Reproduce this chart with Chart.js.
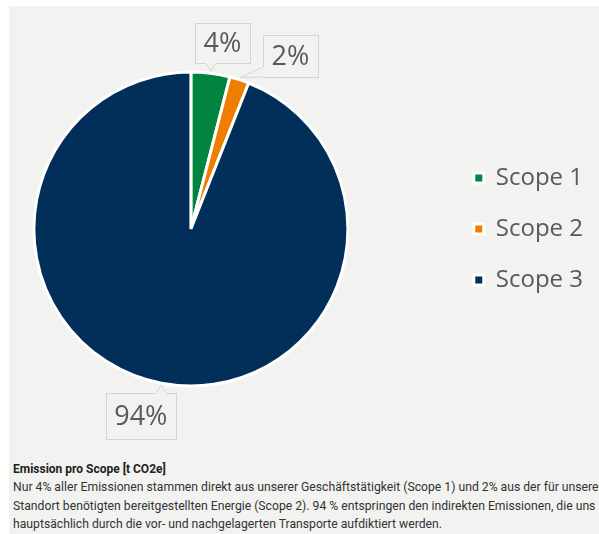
<!DOCTYPE html>
<html>
<head>
<meta charset="utf-8">
<script src="https://cdn.jsdelivr.net/npm/chart.js@4"></script>
<style>
  html, body { margin: 0; padding: 0; background: #fff; }
  body { width: 599px; height: 534px; overflow: hidden; position: relative; }
  .panel {
    position: absolute; left: 9px; top: 6px; width: 590px; height: 528px;
    background: #f2f2f0; overflow: hidden;
  }
  /* Zeichenfläche nach links verschoben, damit der Kreis links sitzt */
  .chart-box { position: absolute; left: -74px; top: 0; width: 665px; height: 444px; }
  .caption {
    position: absolute; left: 4px; top: 453.5px; width: 700px;
    font-family: Roboto, sans-serif; font-size: 12.2px; line-height: 18.5px; color: #333;
    white-space: nowrap;
  }
  .caption b { font-weight: 700; color: #222; font-size: 12px; }
</style>
</head>
<body>
<div class="panel">
  <div class="chart-box"><canvas id="scopeChart"></canvas></div>
  <div class="caption" id="caption"></div>
</div>
<script>
// Anteil der Emissionen je Scope (Prozent)
const scopeLabels = ['Scope 1', 'Scope 2', 'Scope 3'];
const scopeShares = [4, 2, 94];

const captionTitle = 'Emission pro Scope [t CO2e]';
const captionLines = [
    'Nur 4% aller Emissionen stammen direkt aus unserer Geschäftstätigkeit (Scope 1) und 2% aus der für unseren',
    'Standort benötigten bereitgestellten Energie (Scope 2). 94 % entspringen den indirekten Emissionen, die uns',
    'hauptsächlich durch die vor- und nachgelagerten Transporte aufdiktiert werden.'
];

const sliceColors = ['#00843f', '#ef7d00', '#022f5a'];
const panelColor = '#f2f2f0';
const textGrey = '#595959';

// Lage der Beschriftungsboxen: Drehung (Grad) ggü. Segmentmitte, Abstand über dem Rand
const labelPlacement = [
    { turn: 2.4, gap: 31.6, h: 40 },
    { turn: 11.9, gap: 42.6, h: 42 },
    { turn: 4.2, gap: 36.6, h: 46 }
];

// Bildunterschrift
const cap = document.getElementById('caption');
cap.innerHTML = '<b>' + captionTitle + '</b><br>' + captionLines.join('<br>');

// Prozent-Boxen mit Zeiger zum Segment
const calloutPlugin = {
    id: 'callouts',
    afterDatasetsDraw(chart) {
        const ctx = chart.ctx;
        const meta = chart.getDatasetMeta(0);
        ctx.save();
        ctx.font = '27px "Open Sans"';
        ctx.textAlign = 'center';
        ctx.textBaseline = 'middle';
        meta.data.forEach((arc, i) => {
            const p = arc.getProps(['x', 'y', 'startAngle', 'endAngle', 'outerRadius'], true);
            const mid = (p.startAngle + p.endAngle) / 2;
            const place = labelPlacement[i];
            const a = mid + place.turn * Math.PI / 180;
            const dist = p.outerRadius + place.gap;
            const cx = p.x + Math.cos(a) * dist;
            const cy = p.y + Math.sin(a) * dist;
            const text = scopeShares[i] + '%';
            const w = ctx.measureText(text).width + 17;
            const h = place.h;
            const left = cx - w / 2, top = cy - h / 2;

            // Ankerpunkt am Segmentrand
            const ax = p.x + Math.cos(mid) * (p.outerRadius + 2);
            const ay = p.y + Math.sin(mid) * (p.outerRadius + 2);

            ctx.fillStyle = panelColor;
            ctx.strokeStyle = '#d4d4d2';
            ctx.lineWidth = 1;
            ctx.fillRect(left, top, w, h);
            ctx.strokeRect(Math.round(left) + 0.5, Math.round(top) + 0.5, Math.round(w), Math.round(h));

            // Zeiger
            const dx = (ax - cx) / (w / 2), dy = (ay - cy) / (h / 2);
            const hw = 5;
            let b1, b2;
            if (Math.abs(dx) > Math.abs(dy)) {
                const ex = dx < 0 ? left : left + w;
                const by = Math.min(Math.max(ay, top + hw), top + h - hw);
                b1 = [ex, by - hw]; b2 = [ex, by + hw];
            } else {
                const ey = dy < 0 ? top : top + h;
                const bx = Math.min(Math.max(ax, left + hw), left + w - hw);
                b1 = [bx - hw, ey]; b2 = [bx + hw, ey];
            }
            ctx.beginPath();
            ctx.moveTo(b1[0], b1[1]);
            ctx.lineTo(ax, ay);
            ctx.lineTo(b2[0], b2[1]);
            ctx.fill();
            ctx.stroke();
            ctx.beginPath();
            ctx.moveTo(b1[0], b1[1]);
            ctx.lineTo(b2[0], b2[1]);
            ctx.strokeStyle = panelColor;
            ctx.lineWidth = 2;
            ctx.stroke();

            ctx.fillStyle = textGrey;
            ctx.fillText(text, cx, cy + 1);
        });
        ctx.restore();
    }
};

new Chart(document.getElementById('scopeChart'), {
    type: 'pie',
    data: {
        labels: scopeLabels,
        datasets: [{
            data: scopeShares,
            backgroundColor: sliceColors,
            borderColor: '#ffffff',
            borderWidth: 3,
            hoverOffset: 0
        }]
    },
    options: {
        responsive: true,
        maintainAspectRatio: false,
        animation: false,
        layout: {
            padding: { left: 0, top: 64.5, bottom: 62.5, right: 7 }
        },
        plugins: {
            tooltip: { enabled: false },
            legend: {
                position: 'right',
                align: 'center',
                labels: {
                    boxWidth: 10,
                    boxHeight: 10,
                    padding: 27,
                    color: textGrey,
                    font: { family: '"Open Sans"', size: 24 }
                }
            }
        }
    },
    plugins: [calloutPlugin]
});
</script>
</body>
</html>
